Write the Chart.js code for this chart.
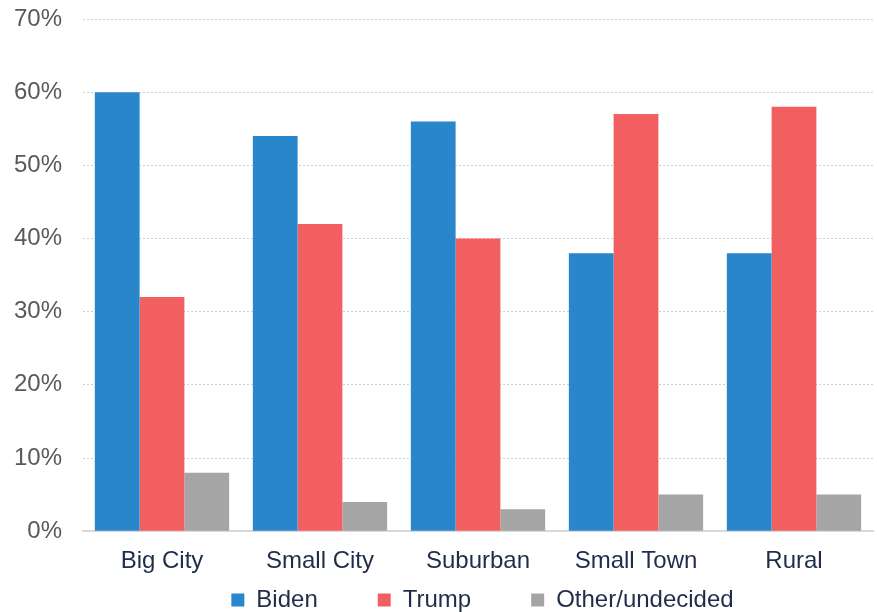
<!DOCTYPE html>
<html>
<head>
<meta charset="utf-8">
<script src="https://cdn.jsdelivr.net/npm/chart.js@4"></script>
<style>
  html, body { margin: 0; padding: 0; background: #fff; }
  #wrap { width: 877px; height: 612px; }
</style>
</head>
<body>
<div id="wrap"><canvas id="myChart"></canvas></div>
<script>
const categories = ['Big City', 'Small City', 'Suburban', 'Small Town', 'Rural'];
const biden = [60, 54, 56, 38, 38];
const trump = [32, 42, 40, 57, 58];
const other = [8, 4, 3, 5, 5];

const ctx = document.getElementById('myChart');

// nudge the legend to the right, like the original
const legendShift = {
    id: 'legendShift',
    afterLayout(chart) {
        chart.legend.left += 46;
        chart.legend.right += 46;
    }
};

new Chart(ctx, {
    type: 'bar',
    data: {
        labels: categories,
        datasets: [
            { label: 'Biden', data: biden, backgroundColor: '#2A86CB' },
            { label: 'Trump', data: trump, backgroundColor: '#F25F61' },
            { label: 'Other/undecided', data: other, backgroundColor: '#A5A5A5' }
        ]
    },
    options: {
        responsive: true,
        maintainAspectRatio: false,
        animation: false,
        datasets: {
            bar: {
                categoryPercentage: 0.85,
                barPercentage: 1.0,
                borderWidth: 0
            }
        },
        layout: {
            padding: { top: 19, right: 4, left: 0, bottom: -10 }
        },
        plugins: {
            tooltip: { enabled: false },
            legend: {
                position: 'bottom',
                labels: {
                    boxWidth: 13,
                    boxHeight: 13,
                    padding: 12,
                    color: '#1F2D4A',
                    font: { family: 'Liberation Sans, Arial, sans-serif', size: 24 },
                    generateLabels: (chart) => {
                        const items = Chart.defaults.plugins.legend.labels.generateLabels(chart);
                        items.forEach((it, i) => {
                            if (i < items.length - 1) it.text = it.text + '\u2003\u2003';
                        });
                        return items;
                    }
                }
            }
        },
        scales: {
            x: {
                afterFit: (scale) => { scale.height -= 16; },
                grid: { display: false, drawTicks: false },
                border: { display: true, color: '#D9D9D9', width: 2 },
                ticks: {
                    color: '#1F2D4A',
                    padding: 16,
                    font: { family: 'Liberation Sans, Arial, sans-serif', size: 24 }
                }
            },
            y: {
                min: 0,
                max: 70,
                afterFit: (scale) => {
                    scale.width = 83;
                    scale.paddingTop = 0;
                },
                grid: { color: '#CFCFCF', drawTicks: false, lineWidth: 1 },
                border: { display: false, dash: [2, 2] },
                ticks: {
                    stepSize: 10,
                    padding: 21,
                    color: '#595959',
                    font: { family: 'Liberation Sans, Arial, sans-serif', size: 24 },
                    callback: (v) => v + '%'
                }
            }
        }
    },
    plugins: [legendShift]
});
</script>
</body>
</html>
